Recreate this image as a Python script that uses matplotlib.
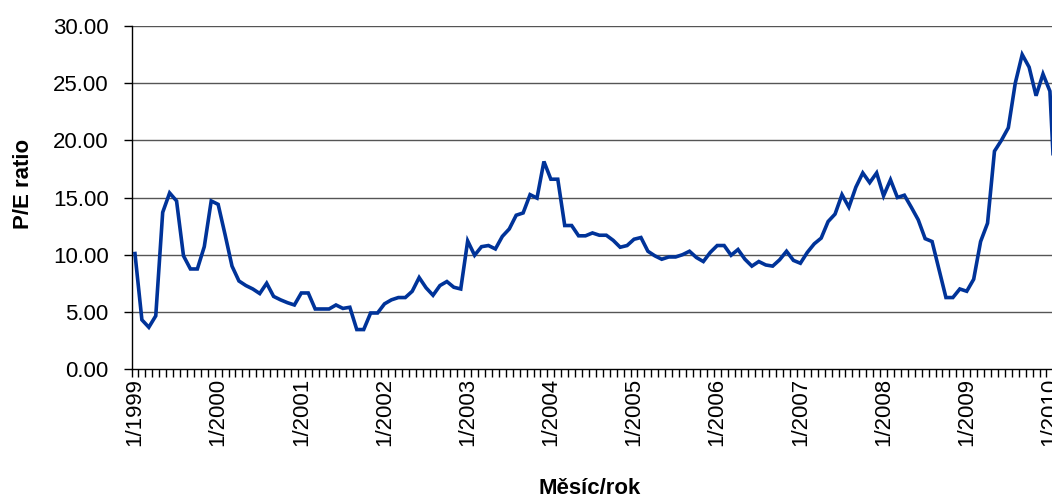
import matplotlib
matplotlib.use("Agg")
import matplotlib.pyplot as plt
from matplotlib.ticker import FixedLocator, FormatStrFormatter

plt.rcParams['font.family'] = ['Liberation Sans', 'DejaVu Sans']

# Monthly P/E ratio, 1/1999 onwards
pe = [10.1, 4.3, 3.65, 4.65, 13.7, 15.4, 14.7, 9.9, 8.75, 8.75, 10.7, 14.7,
      14.4, 11.75, 9.0, 7.7, 7.3, 7.0, 6.6, 7.5, 6.35, 6.05, 5.8, 5.6,
      6.65, 6.65, 5.25, 5.25, 5.25, 5.6, 5.3, 5.4, 3.45, 3.45, 4.9, 4.9,
      5.7, 6.05, 6.25, 6.25, 6.8, 8.0, 7.1, 6.45, 7.3, 7.65, 7.15, 7.0,
      11.2, 9.95, 10.7, 10.8, 10.5, 11.6, 12.25, 13.45, 13.65, 15.25, 14.95, 18.15,
      16.6, 16.6, 12.55, 12.55, 11.65, 11.65, 11.9, 11.7, 11.7, 11.25, 10.65, 10.8,
      11.35, 11.5, 10.3, 9.9, 9.6, 9.8, 9.8, 10.0, 10.3, 9.75, 9.4, 10.2,
      10.8, 10.8, 9.95, 10.45, 9.6, 9.0, 9.4, 9.1, 9.0, 9.55, 10.3, 9.5,
      9.25, 10.2, 10.95, 11.45, 12.9, 13.55, 15.25, 14.15, 15.9, 17.15, 16.3, 17.15,
      15.15, 16.55, 15.0, 15.2, 14.15, 13.05, 11.4, 11.15, 8.7, 6.25, 6.25, 7.0,
      6.8, 7.85, 11.15, 12.75, 19.05, 20.0, 21.1, 25.0, 27.5, 26.4, 23.9, 25.8,
      24.3, 12.0]
months = [f"{m}/{y}" for y in range(1999, 2011) for m in range(1, 13)][:len(pe)]
year_labels = ["1/1999", "1/2000", "1/2001", "1/2002", "1/2003", "1/2004",
               "1/2005", "1/2006", "1/2007", "1/2008", "1/2009", "1/2010"]
yticks = [0, 5, 10, 15, 20, 25, 30]

fig = plt.figure(figsize=(10.52, 4.99), dpi=100)
ax = fig.add_axes([0.125, 0.2605, 0.875, 0.6874])

x = list(range(len(pe)))
ax.plot(x, pe, color='#003399', linewidth=2.6, solid_joinstyle='miter', zorder=3)

XMIN, XMAX = -0.5, 132.3

ax.yaxis.set_major_locator(FixedLocator(yticks))
ax.yaxis.set_major_formatter(FormatStrFormatter('%.2f'))
for yv in yticks[1:]:
    ax.axhline(yv, color='#555555', linewidth=1.0, zorder=1)

label_pos = [months.index(l) for l in year_labels]
ax.set_xticks(label_pos)
ax.set_xticklabels(year_labels, rotation=90)
ax.set_xticks([i - 0.5 for i in range(len(pe) + 1) if i - 0.5 <= XMAX], minor=True)
ax.set_xlim(XMIN, XMAX)
ax.set_ylim(0, 30)

ax.tick_params(axis='x', which='major', length=0, pad=6.5, labelsize=16)
ax.tick_params(axis='x', which='minor', length=5.5, width=1, direction='out')
ax.tick_params(axis='y', length=5.5, width=1, direction='out', labelsize=16, pad=11)

for s in ['top', 'right']:
    ax.spines[s].set_visible(False)
for s in ['left', 'bottom']:
    ax.spines[s].set_linewidth(1.0)
    ax.spines[s].set_color('black')

ax.set_ylabel('P/E ratio', fontsize=16, fontweight='bold')
ax.yaxis.set_label_coords(-0.106, 0.54)
ax.set_xlabel('Měsíc/rok', fontsize=16, fontweight='bold')
ax.xaxis.set_label_coords(0.498, -0.317)

fig.savefig('out.png', dpi=100)
